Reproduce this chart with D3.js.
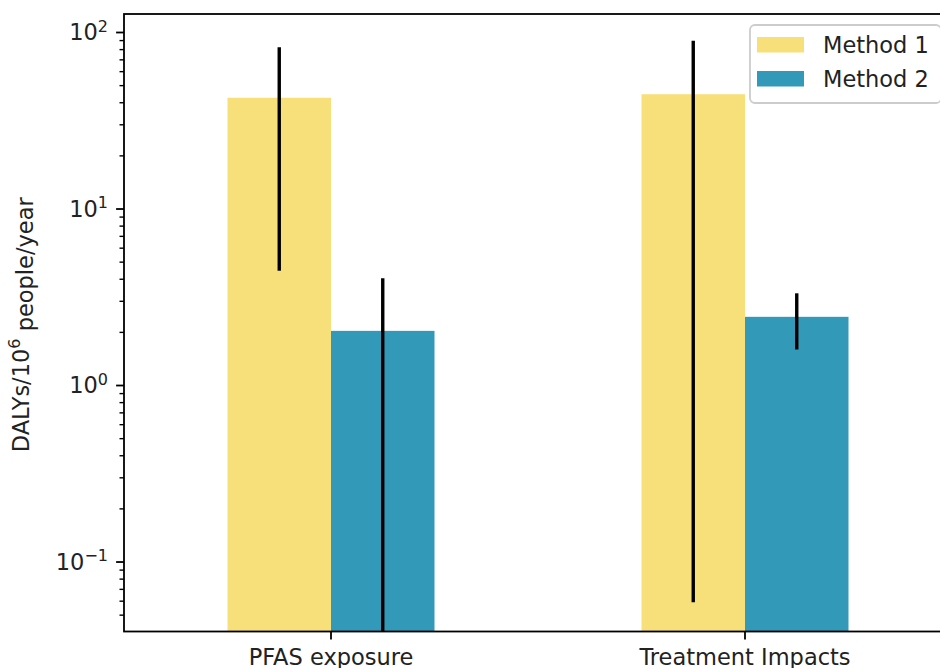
<!DOCTYPE html>
<html>
<head>
<meta charset="utf-8">
<script src="https://cdn.jsdelivr.net/npm/d3@7"></script>
<style>
  body { margin: 0; background: #fff; overflow: hidden; }
  svg { display: block; font-family: "DejaVu Sans", sans-serif; }
</style>
</head>
<body>
<script>
// data
const categories = ["PFAS exposure", "Treatment Impacts"];
const seriesNames = ["Method 1", "Method 2"];
const method1 = [42.7, 44.7];
const method1Low = [4.47, 0.0591];
const method1High = [82.4, 89.9];
const method2 = [2.04, 2.45];
const method2Low = [0.001, 1.60];   // first one runs off the bottom of the axis
const method2High = [4.05, 3.33];
const yTickExps = [-1, 0, 1, 2];

const colors = ["#f7e07a", "#3399b8"];

const W = 940, H = 668;
const margin = {top: 14, left: 124};
const plotW = 952 - margin.left,   // right spine sits just outside the picture
      plotH = 631.5 - margin.top;

const svg = d3.select("body").append("svg")
  .attr("width", W)
  .attr("height", H);

const x = d3.scaleLinear().domain([-0.5, 1.5]).range([0, plotW]);
const y = d3.scaleLog().domain([0.0404, 127.3]).range([plotH, 0]);
const barW = 0.25;

const g = svg.append("g").attr("transform", `translate(${margin.left},${margin.top})`);

g.append("clipPath").attr("id", "clip")
  .append("rect").attr("width", plotW).attr("height", plotH);

const series = [
  {name: seriesNames[0], vals: method1, lo: method1Low, hi: method1High, off: -barW / 2},
  {name: seriesNames[1], vals: method2, lo: method2Low, hi: method2High, off: barW / 2}
];

const plot = g.append("g").attr("clip-path", "url(#clip)");

series.forEach((s, si) => {
  plot.selectAll(null).data(s.vals).enter().append("rect")
    .attr("x", (d, i) => x(i + s.off - barW / 2))
    .attr("width", x(barW) - x(0))
    .attr("y", d => y(d))
    .attr("height", d => plotH - y(d))
    .attr("fill", colors[si]);
});

series.forEach(s => {
  plot.selectAll(null).data(s.vals).enter().append("line")
    .attr("x1", (d, i) => x(i + s.off))
    .attr("x2", (d, i) => x(i + s.off))
    .attr("y1", (d, i) => y(s.hi[i]))
    .attr("y2", (d, i) => y(s.lo[i]))
    .attr("stroke", "#000")
    .attr("stroke-width", 3.4);
});

// y axis: major + minor log ticks
const minor = [];
for (let e = -2; e <= 2; e++) {
  for (let m = 2; m <= 9; m++) {
    const v = m * Math.pow(10, e);
    if (v >= y.domain()[0] && v <= y.domain()[1]) minor.push(v);
  }
}
g.selectAll(".minor").data(minor).enter().append("line")
  .attr("x1", -4.5).attr("x2", 0)
  .attr("y1", d => y(d)).attr("y2", d => y(d))
  .attr("stroke", "#000").attr("stroke-width", 1.4);

const yt = g.selectAll(".ytick").data(yTickExps).enter().append("g")
  .attr("transform", d => `translate(0,${y(Math.pow(10, d))})`);
yt.append("line").attr("x1", -7.9).attr("x2", 0)
  .attr("stroke", "#000").attr("stroke-width", 1.8);
const ytxt = yt.append("text")
  .attr("x", -16).attr("dy", "0.35em")
  .attr("text-anchor", "end")
  .attr("font-size", 22.5)
  .attr("fill", "#222");
ytxt.append("tspan").text("10");
ytxt.append("tspan")
  .attr("dy", "-0.55em")
  .attr("font-size", 16)
  .text(d => d < 0 ? "\u2212" + Math.abs(d) : d);

// x axis
const xt = g.selectAll(".xtick").data(categories).enter().append("g")
  .attr("transform", (d, i) => `translate(${x(i)},${plotH})`);
xt.append("line").attr("y1", 0).attr("y2", 7.9)
  .attr("stroke", "#000").attr("stroke-width", 1.8);
xt.append("text")
  .attr("y", 33)
  .attr("text-anchor", "middle")
  .attr("font-size", 22.5)
  .attr("fill", "#222")
  .text(d => d);

// spines
g.append("rect")
  .attr("width", plotW).attr("height", plotH)
  .attr("fill", "none").attr("stroke", "#000").attr("stroke-width", 1.8);

// y label
const yl = svg.append("text")
  .attr("transform", `translate(29,${margin.top + plotH / 2 + 2}) rotate(-90)`)
  .attr("text-anchor", "middle")
  .attr("font-size", 22.5)
  .attr("fill", "#222");
yl.append("tspan").text("DALYs/10");
yl.append("tspan").attr("dy", "-0.55em").attr("font-size", 16).text("6");
yl.append("tspan").attr("dy", "0.55em").text(" people/year");

// legend
const leg = svg.append("g").attr("transform", "translate(750,25)");
leg.append("rect")
  .attr("width", 191).attr("height", 78)
  .attr("rx", 5)
  .attr("fill", "#fff").attr("fill-opacity", 0.8)
  .attr("stroke", "#ccc").attr("stroke-width", 1.8);
const li = leg.selectAll(".li").data(seriesNames).enter().append("g")
  .attr("transform", (d, i) => `translate(0,${12 + i * 34})`);
li.append("rect")
  .attr("x", 7).attr("width", 47).attr("height", 15.5)
  .attr("fill", (d, i) => colors[i]);
li.append("text")
  .attr("x", 73).attr("y", 8).attr("dy", "0.35em")
  .attr("font-size", 22.5)
  .attr("fill", "#222")
  .text(d => d);
</script>
</body>
</html>
